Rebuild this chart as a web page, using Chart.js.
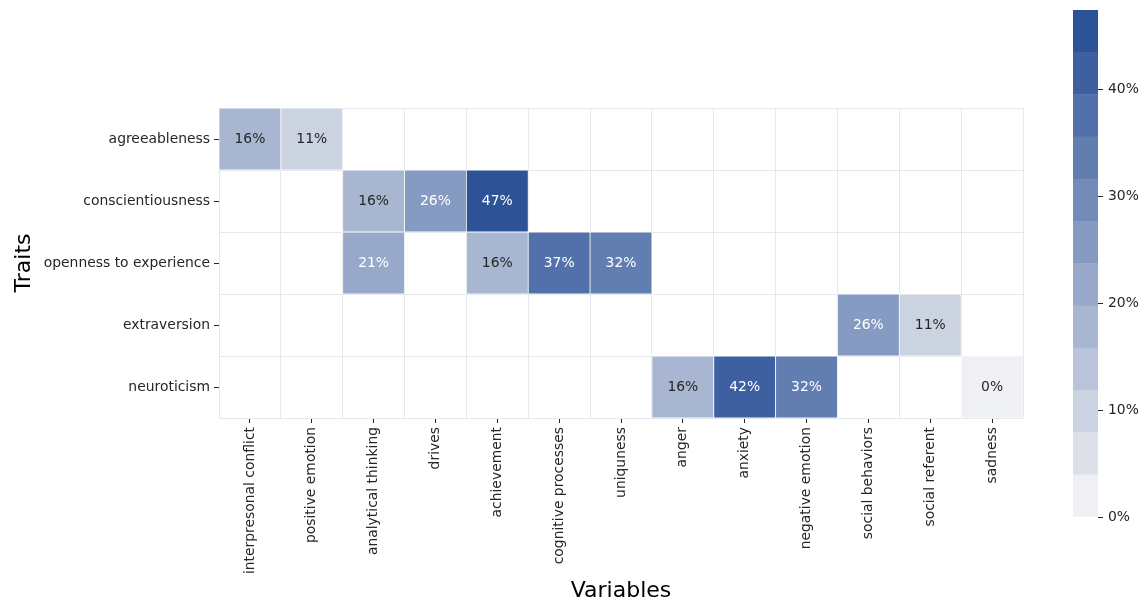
<!DOCTYPE html>
<html><head><meta charset="utf-8">
<script src="https://cdn.jsdelivr.net/npm/chart.js@4"></script>
<style>
html,body{margin:0;padding:0;background:#fff;}
#wrap{position:relative;width:1142px;height:604px;overflow:hidden;}
canvas{position:absolute;top:0;}
</style>
</head><body>
<div id="wrap">
<canvas id="main" width="1142" height="604" style="left:0;width:1142px;height:604px"></canvas>
<canvas id="cbar" width="82" height="604" style="left:1060px;width:82px;height:604px"></canvas>
</div>
<script>
// ---- data ----
const variables = ['interpresonal conflict','positive emotion','analytical thinking','drives','achievement','cognitive processes','uniquness','anger','anxiety','negative emotion','social behaviors','social referent','sadness'];
const traits = ['agreeableness','conscientiousness','openness to experience','extraversion','neuroticism'];
const agreeableness     = [16, 11, null, null, null, null, null, null, null, null, null, null, null];
const conscientiousness = [null, null, 16, 26, 47.4, null, null, null, null, null, null, null, null];
const openness          = [null, null, 21, null, 16, 37, 32, null, null, null, null, null, null];
const extraversion      = [null, null, null, null, null, null, null, null, null, null, 26, 11, null];
const neuroticism       = [null, null, null, null, null, null, null, 16, 42, 32, null, null, 0];
const colorbarTicks = [0, 10, 20, 30, 40];
const palette = ['#eff0f3','#dde0e9','#cbd2e0','#b9c3d9','#a9b6d1','#97a8ca','#869bc2','#748bba','#627db0','#5271aa','#3e5fa0','#2d5296'];

const rows = [agreeableness, conscientiousness, openness, extraversion, neuroticism];
const vmax = Math.max(...rows.flat().filter(v => v !== null));
const binW = vmax / palette.length;

function colorFor(v) {
  const i = Math.min(palette.length - 1, Math.floor(v / binW));
  return palette[i];
}
function lum(hex) {
  const c = [1,3,5].map(k => parseInt(hex.substr(k,2),16)/255)
    .map(x => x <= 0.03928 ? x/12.92 : Math.pow((x+0.055)/1.055, 2.4));
  return 0.2126*c[0] + 0.7152*c[1] + 0.0722*c[2];
}

const FS = 13.9;
Chart.defaults.font.family = "'DejaVu Sans', sans-serif";
Chart.defaults.font.size = FS;
Chart.defaults.color = '#262626';

const TEXT = '#262626';
const GRID = '#e4e7ee';

const annotate = {
  id: 'annotate',
  afterDatasetsDraw(chart) {
    const ctx = chart.ctx;
    ctx.save();
    ctx.font = FS + "px 'DejaVu Sans', sans-serif";
    ctx.textAlign = 'center';
    ctx.textBaseline = 'middle';
    chart.data.datasets.forEach((ds, di) => {
      const meta = chart.getDatasetMeta(di);
      meta.data.forEach((el, i) => {
        const v = rows[di][i];
        if (v === null || v === undefined) return;
        const col = colorFor(v);
        ctx.fillStyle = lum(col) > 0.408 ? TEXT : '#ffffff';
        ctx.fillText(Math.round(v) + '%', el.x, (el.y + el.base) / 2);
      });
    });
    ctx.restore();
  }
};

new Chart(document.getElementById('main'), {
  type: 'bar',
  data: {
    labels: variables,
    datasets: rows.map((vals, r) => ({
      label: traits[r],
      data: vals.map(v => v === null ? null : [r, r + 1]),
      backgroundColor: ctx => { const v = vals[ctx.dataIndex]; return v === null ? 'rgba(0,0,0,0)' : colorFor(v); },
      borderColor: 'rgba(255,255,255,0.85)',
      borderWidth: 0.75,
      borderSkipped: false,
      grouped: false,
      barPercentage: 1,
      categoryPercentage: 1,
      xAxisID: 'x',
      yAxisID: 'y'
    }))
  },
  options: {
    responsive: false,
    animation: false,
    layout: { padding: { left: 7, top: 108, right: 119, bottom: 0 } },
    plugins: { legend: { display: false }, tooltip: { enabled: false } },
    scales: {
      x: {
        type: 'category', position: 'bottom', offset: true,
        grid: { display: true, offset: true, color: GRID, lineWidth: 1, drawTicks: false },
        border: { display: false },
        ticks: { display: false },
        afterFit(s) { s.height = 0; }
      },
      x2: {
        type: 'category', position: 'bottom', offset: true,
        grid: { display: true, offset: false, drawOnChartArea: false, drawTicks: true, tickLength: 5, tickColor: TEXT, tickWidth: 1 },
        border: { display: false },
        ticks: { autoSkip: false, minRotation: 90, maxRotation: 90, padding: 4, color: TEXT, font: { size: FS } },
        title: { display: true, text: 'Variables', color: '#000', font: { size: 22 }, padding: { top: 4, bottom: 0 } },
        afterFit(s) { s.height = 186; }
      },
      y: {
        type: 'linear', position: 'left', min: 0, max: 5, reverse: true,
        afterBuildTicks(s) { s.ticks = traits.map((t, i) => ({ value: i + 0.5 })); },
        grid: { display: true, offset: true, color: GRID, lineWidth: 1, drawTicks: false },
        border: { display: false },
        ticks: { display: false },
        afterFit(s) { s.width = 0; }
      },
      yl: {
        type: 'linear', position: 'left', min: 0, max: 5, reverse: true,
        afterBuildTicks(s) { s.ticks = traits.map((t, i) => ({ value: i + 0.5 })); },
        grid: { display: true, offset: false, drawOnChartArea: false, drawTicks: true, tickLength: 5, tickColor: TEXT, tickWidth: 1 },
        border: { display: false },
        ticks: { padding: 4, color: TEXT, font: { size: FS }, callback: (v, i) => traits[i] },
        title: { display: true, text: 'Traits', color: '#000', font: { size: 22 }, padding: { top: 4, bottom: 4 } },
        afterFit(s) { s.width = 212; }
      }
    }
  },
  plugins: [annotate]
});

// ---- colorbar ----
new Chart(document.getElementById('cbar'), {
  type: 'bar',
  data: {
    labels: [''],
    datasets: palette.map((c, i) => ({
      data: [[i * binW, (i + 1) * binW]],
      backgroundColor: c,
      borderWidth: 0,
      grouped: false,
      barPercentage: 1,
      categoryPercentage: 1
    }))
  },
  options: {
    responsive: false,
    animation: false,
    layout: { padding: { left: 13, top: 10, right: 0, bottom: 87 } },
    plugins: { legend: { display: false }, tooltip: { enabled: false } },
    scales: {
      x: { display: false, offset: true },
      y: {
        type: 'linear', position: 'right', min: 0, max: vmax,
        afterBuildTicks(s) { s.ticks = colorbarTicks.map(v => ({ value: v })); },
        grid: { display: true, drawOnChartArea: false, drawTicks: true, tickLength: 5, tickColor: TEXT, tickWidth: 1 },
        border: { display: false },
        ticks: { padding: 5, color: TEXT, font: { size: FS }, callback: v => v + '%' },
        afterFit(s) { s.width = 44; s.paddingTop = 0; s.paddingBottom = 0; }
      }
    }
  }
});
</script>
</body></html>
